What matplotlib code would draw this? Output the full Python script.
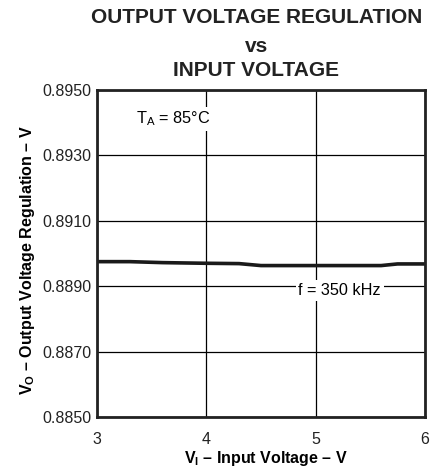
import matplotlib.pyplot as plt

plt.rcParams['font.family'] = ['Liberation Sans', 'DejaVu Sans']
plt.rcParams['mathtext.fontset'] = 'custom'
plt.rcParams['mathtext.rm'] = 'Liberation Sans'
plt.rcParams['mathtext.bf'] = 'Liberation Sans:bold'

# input voltage (V) and output voltage regulation (V)
vin = [3.0, 3.3, 3.6, 4.0, 4.3, 4.5, 5.0, 5.6, 5.75, 6.0]
vout = [0.88975, 0.88975, 0.88972, 0.88970, 0.88969, 0.88963, 0.88963,
        0.88963, 0.88968, 0.88968]

xticks = [3, 4, 5, 6]
yticks = [0.8850, 0.8870, 0.8890, 0.8910, 0.8930, 0.8950]

fig = plt.figure(figsize=(4.38, 4.76), dpi=100)
ax = fig.add_axes([0.2215, 0.124, 0.7485, 0.687])

ax.plot(vin, vout, color='#1a1a1a', lw=2.6, zorder=3)

ax.set_xlim(3, 6)
ax.set_ylim(0.8850, 0.8950)
ax.set_xticks(xticks)
ax.set_yticks(yticks)
ax.set_yticklabels(['%.4f' % v for v in yticks])
ax.grid(True, color='black', lw=0.9)
ax.set_axisbelow(True)
ax.tick_params(length=0, labelsize=11.5, colors='#222222')
ax.tick_params(axis='x', pad=11)
ax.tick_params(axis='y', pad=4)
for s in ax.spines.values():
  s.set_linewidth(2)
  s.set_color('#222222')
  s.set_zorder(4)

ax.text(3.70, 0.89411, 'T$_\\mathregular{A}$ = 85°C', fontsize=11.7, ha='center', va='center',
        bbox=dict(facecolor='white', edgecolor='none', pad=2), zorder=2)
ax.text(5.22, 0.88887, 'f = 350 kHz', fontsize=11.7, ha='center', va='center',
        bbox=dict(facecolor='white', edgecolor='none', pad=2), zorder=2)

ax.set_xlabel('$\\mathbf{V_I}$ – Input Voltage – V', fontsize=11.5, fontweight='bold')
ax.set_ylabel('$\\mathbf{V_O}$ – Output Voltage Regulation – V', fontsize=11.5, fontweight='bold')
ax.xaxis.set_label_coords(0.515, -0.098)
ax.yaxis.set_label_coords(-0.184, 0.48)

fig.text(0.585, 0.9517, 'OUTPUT VOLTAGE REGULATION', fontsize=15, fontweight='bold',
         ha='center', va='baseline', color='#222222')
fig.text(0.585, 0.891, 'vs', fontsize=15, fontweight='bold', ha='center', va='baseline', color='#222222')
fig.text(0.585, 0.840, 'INPUT VOLTAGE', fontsize=15, fontweight='bold', ha='center', va='baseline', color='#222222')

fig.savefig('out.png', dpi=100)
